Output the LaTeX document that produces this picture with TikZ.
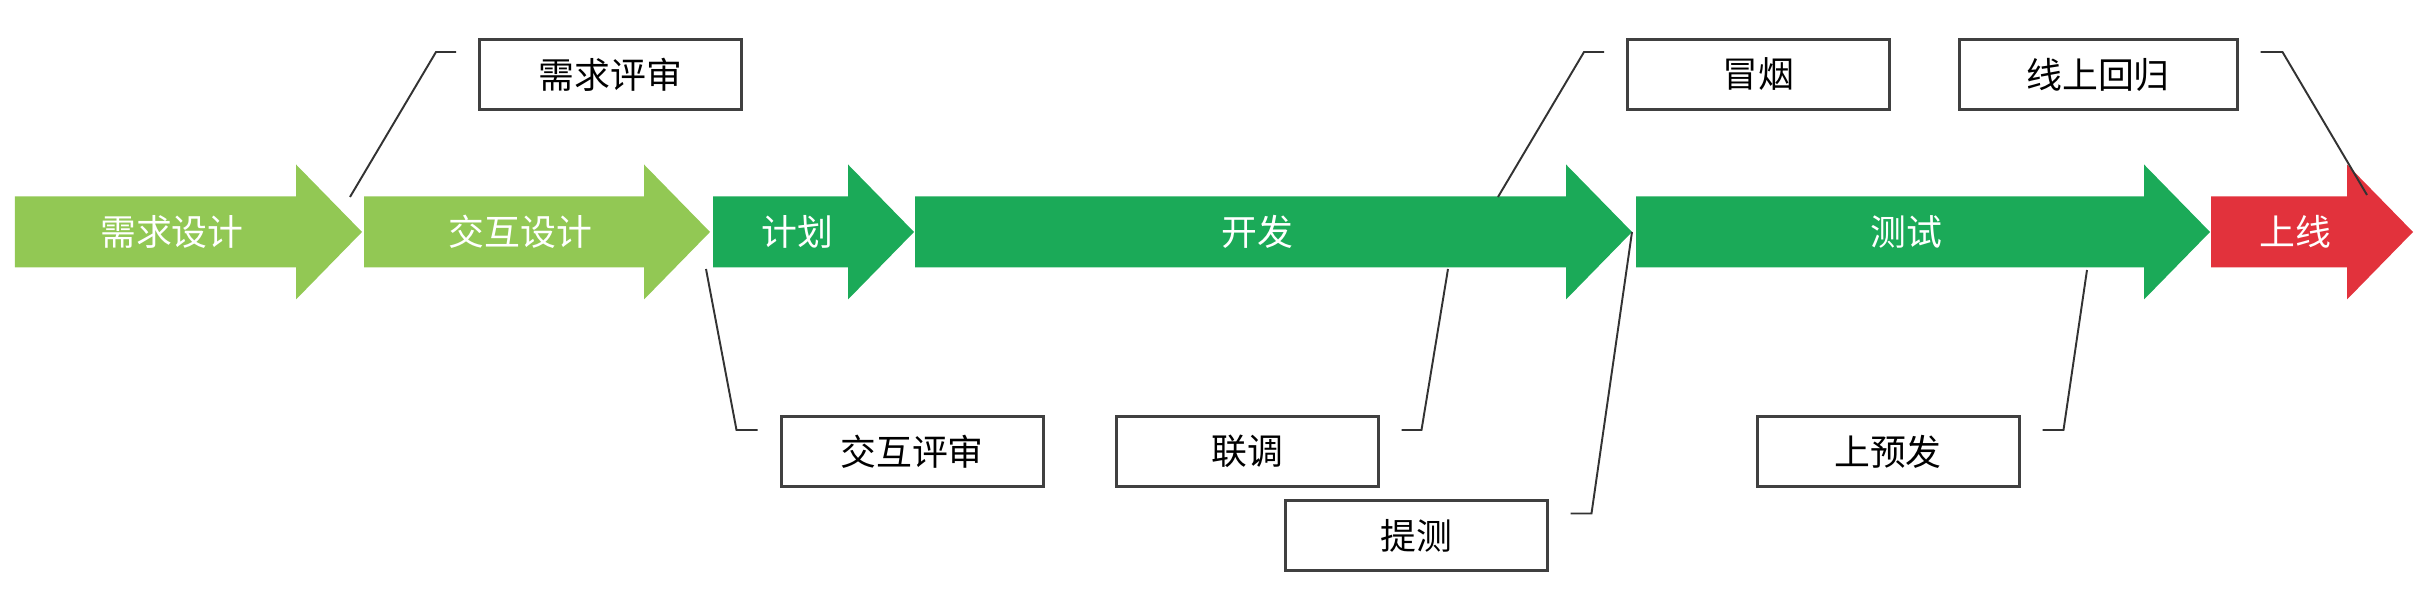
\documentclass[tikz,border=0pt]{standalone}
\usepackage{fontspec}
\usepackage{xcolor}
\usepackage{tikz}
\setmainfont{Noto Sans CJK SC}
\definecolor{stageLight}{RGB}{146,200,84}
\definecolor{stageDark}{RGB}{27,170,88}
\definecolor{stageRed}{RGB}{226,50,60}
\definecolor{boxLine}{RGB}{64,64,64}
\newcommand{\stageMid}{3.58}
\newcommand{\bodyHalf}{.355}
\newcommand{\headHalf}{.675}
\newcommand{\headLength}{.66}
\newcommand{\stageList}{1/.15/3.62/stageLight/需求设计, 2/3.64/7.10/stageLight/交互设计, 3/7.13/9.14/stageDark/计划, 4/9.15/16.32/stageDark/开发, 5/16.36/22.10/stageDark/测试, 6/22.11/24.13/stageRed/上线}
\tikzset{
	stageText/.style={text=white, font=\fontsize{10.2}{12}\selectfont},
	noteBox/.style={draw=boxLine, line width=.85pt, fill=white, minimum height=.7cm, minimum width=2.62cm, inner sep=0pt, font=\fontsize{10.2}{12}\selectfont},
	leader/.style={draw=black!80, line width=.55pt}
}

\begin{document}
\begin{tikzpicture}
	\useasboundingbox (0,0) rectangle (24.24,5.90);
	
	\foreach \i/\stageLeft/\stageTip/\stageColor/\stageName in \stageList
	{
		\fill[\stageColor] (\stageLeft,\stageMid-\bodyHalf) -- ++(\stageTip-\stageLeft-\headLength,0) -- ++(0,\bodyHalf-\headHalf) -- (\stageTip,\stageMid) -- (\stageTip-\headLength,\stageMid+\headHalf) -- ++(0,\bodyHalf-\headHalf) -- (\stageLeft,\stageMid+\bodyHalf) -- cycle;
		\node[stageText] (stage\i) at ({(\stageLeft+\stageTip-\headLength/2)/2},\stageMid) {\stageName};
	}
	
	% callouts above
	\node[noteBox] (reqReview) at (6.105,5.155) {需求评审};
	\node[noteBox] (smoke) at (17.585,5.155) {冒烟};
	\node[noteBox, minimum width=2.78cm] (regress) at (20.98,5.155) {线上回归};
	
	% callouts below
	\node[noteBox] (uiReview) at (9.12,1.385) {交互评审};
	\node[noteBox] (jointDebug) at (12.47,1.385) {联调};
	\node[noteBox] (submitTest) at (14.16,.54) {提测};
	\node[noteBox] (preRelease) at (18.88,1.385) {上预发};
	
	\coordinate (reqEnd) at (3.50,3.93);
	\coordinate (smokeEnd) at (14.98,3.93);
	\coordinate (regressEnd) at (23.67,3.95);
	\coordinate (uiEnd) at (7.06,3.21);
	\coordinate (jointEnd) at (14.48,3.21);
	\coordinate (submitEnd) at (16.32,3.58);
	\coordinate (preEnd) at (20.87,3.20);
	
	\draw[leader] ([xshift=-.22cm,yshift=-.14cm]reqReview.north west) -- ++(-.2,0) -- (reqEnd);
	\draw[leader] ([xshift=-.22cm,yshift=-.14cm]smoke.north west) -- ++(-.2,0) -- (smokeEnd);
	\draw[leader] ([xshift=.22cm,yshift=-.14cm]regress.north east) -- ++(.22,0) -- (regressEnd);
	\draw[leader] ([xshift=-.22cm,yshift=-.15cm]uiReview.north west) -- ++(-.21,0) -- (uiEnd);
	\draw[leader] ([xshift=.22cm,yshift=-.15cm]jointDebug.north east) -- ++(.2,0) -- (jointEnd);
	\draw[leader] ([xshift=.22cm,yshift=-.14cm]submitTest.north east) -- ++(.21,0) -- (submitEnd);
	\draw[leader] ([xshift=.22cm,yshift=-.15cm]preRelease.north east) -- ++(.21,0) -- (preEnd);
\end{tikzpicture}
\end{document}
